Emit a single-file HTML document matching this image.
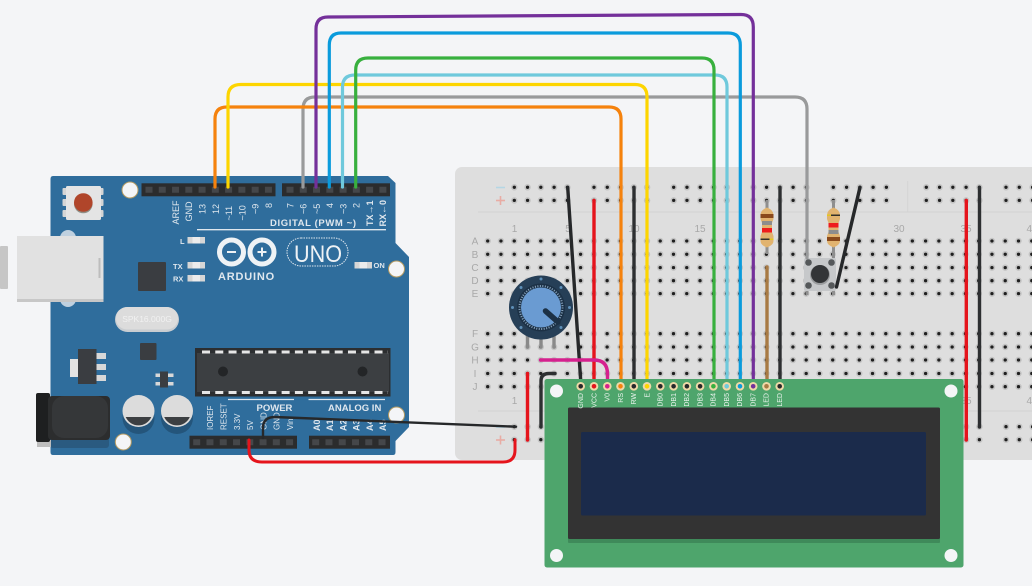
<!DOCTYPE html>
<html><head><meta charset="utf-8"><style>
html,body{margin:0;padding:0;background:#f4f5f7;width:1032px;height:586px;overflow:hidden}
svg{display:block}
text{font-family:"Liberation Sans",sans-serif}
</style></head><body>
<svg width="1032" height="586" viewBox="0 0 1032 586" xmlns="http://www.w3.org/2000/svg">
<defs>
<g id="r5h"><line x1="0" y1="0" x2="53.1" y2="0"/></g>
<g id="railrow">
<use href="#r5h" x="514.3"/><use href="#r5h" x="594"/><use href="#r5h" x="673.7"/><use href="#r5h" x="753.3"/><use href="#r5h" x="833.3"/><use href="#r5h" x="926.3"/><use href="#r5h" x="1006"/>
</g>
<g id="rows">
<line x1="487.7" x2="1040" y1="241" y2="241"/><line x1="487.7" x2="1040" y1="254.3" y2="254.3"/><line x1="487.7" x2="1040" y1="267.6" y2="267.6"/><line x1="487.7" x2="1040" y1="280.7" y2="280.7"/><line x1="487.7" x2="1040" y1="293.6" y2="293.6"/>
<line x1="487.7" x2="1040" y1="333.7" y2="333.7"/><line x1="487.7" x2="1040" y1="347" y2="347"/><line x1="487.7" x2="1040" y1="360" y2="360"/><line x1="487.7" x2="1040" y1="373.5" y2="373.5"/><line x1="487.7" x2="1040" y1="386.7" y2="386.7"/>
<use href="#railrow" y="187.3"/><use href="#railrow" y="200.4"/><use href="#railrow" y="426.7"/><use href="#railrow" y="439.7"/>
</g>
</defs>

<!-- breadboard -->
<rect x="455" y="167" width="600" height="293" rx="7" fill="#dedede"/>
<g stroke="#d3d3d3" stroke-width="1"><line x1="478" x2="1032" y1="212" y2="212"/><line x1="478" x2="1032" y1="411" y2="411"/><line x1="907.7" x2="907.7" y1="181" y2="212"/></g>
<g fill="none" stroke="#c4c4c4" stroke-width="6.5" stroke-linecap="round" stroke-dasharray="0 13.27"><use href="#rows"/></g>
<g fill="none" stroke="#1f1f1f" stroke-width="3.3" stroke-linecap="round" stroke-dasharray="0 13.27"><use href="#rows"/></g>
<g stroke-width="1.6"><line x1="496" x2="505" y1="187.5" y2="187.5" stroke="#b5d6e4"/><line x1="496" x2="505" y1="200.5" y2="200.5" stroke="#e8aca4"/><line x1="500.5" x2="500.5" y1="196" y2="205" stroke="#e8aca4"/>
<line x1="496" x2="505" y1="427" y2="427" stroke="#b5d6e4"/><line x1="496" x2="505" y1="440" y2="440" stroke="#e8aca4"/><line x1="500.5" x2="500.5" y1="435.5" y2="444.5" stroke="#e8aca4"/></g>
<g fill="#a8a8a8" font-size="10" text-anchor="middle">
<text x="514.5" y="232">1</text><text x="568" y="232">5</text><text x="634" y="232">10</text><text x="700" y="232">15</text><text x="899" y="232">30</text><text x="966" y="232">35</text><text x="1032" y="232">40</text>
<text x="514.5" y="404">1</text><text x="966" y="404">35</text><text x="1032" y="404">40</text>
<text x="475" y="244.5">A</text><text x="475" y="258">B</text><text x="475" y="271">C</text><text x="475" y="284">D</text><text x="475" y="297">E</text>
<text x="475" y="337">F</text><text x="475" y="350.5">G</text><text x="475" y="363.5">H</text><text x="475" y="377">I</text><text x="475" y="390">J</text>
</g>

<!-- breadboard wires under parts -->
<g fill="none" stroke-width="3.4" stroke-linecap="round">
<line x1="594" y1="200.4" x2="594" y2="385" stroke="#e5141c"/>
<line x1="634" y1="187.3" x2="634" y2="385" stroke="#2d2f31"/>
<line x1="767" y1="267" x2="767" y2="385" stroke="#a87a44"/>
<line x1="780" y1="187.3" x2="780" y2="385" stroke="#2d2f31"/>
<line x1="966.3" y1="200.4" x2="966.3" y2="440" stroke="#e5141c"/>
<line x1="979.5" y1="187.3" x2="979.5" y2="427" stroke="#2d2f31"/>
<line x1="527.5" y1="373.5" x2="527.5" y2="440" stroke="#e5141c"/>
<path d="M541 427V381Q541 373.5 549 373.5H555" stroke="#2d2f31"/>
</g>

<!-- resistors -->
<line x1="767" y1="200" x2="767" y2="254" stroke="#8f8f8f" stroke-width="3"/>
<path d="M767 207.500Q773.500 210 773.500 215V219L772 223V232L773.500 236V241Q773.500 245 767 247.500Q760.500 245 760.500 241V236L762 232V223L760.500 219V215Q760.500 210 767 207.500Z" fill="#e1b36f"/>
<rect x="760.500" y="214" width="13" height="4" fill="#8a4a1c"/>
<rect x="762" y="221" width="10" height="4" fill="#8d8d8d"/>
<rect x="762" y="228" width="10" height="4.500" fill="#ee1c1c"/>
<rect x="760.500" y="238.500" width="13" height="1.500" fill="#33302a"/>
<rect x="769.500" y="238.500" width="4" height="1.500" fill="#e3c820"/>

<line x1="833.500" y1="200" x2="833.500" y2="258" stroke="#8f8f8f" stroke-width="3"/>
<path d="M833.500 207.500Q840 210 840 215V219L838.500 223V232L840 236V241Q840 245 833.500 247.500Q827 245 827 241V236L828.500 232V223L827 219V215Q827 210 833.500 207.500Z" fill="#e1b36f"/>
<rect x="827" y="237" width="13" height="4" fill="#8a4a1c"/>
<rect x="828.500" y="230" width="10" height="4" fill="#8d8d8d"/>
<rect x="828.500" y="223" width="10" height="4.500" fill="#ee1c1c"/>
<rect x="827" y="214.500" width="13" height="1.500" fill="#33302a"/>
<rect x="827" y="214.500" width="4" height="1.500" fill="#e3c820"/>

<!-- pushbutton -->
<line x1="807" y1="288" x2="807" y2="295" stroke="#8f8f8f" stroke-width="3"/>
<line x1="833.500" y1="288" x2="833.500" y2="295" stroke="#8f8f8f" stroke-width="3"/>
<rect x="804" y="258" width="32" height="33" rx="2" fill="#c6c8ca"/>
<circle cx="820" cy="275" r="10" fill="#9b9d9f"/>
<circle cx="820" cy="274" r="9" fill="#333537"/>
<g fill="#55585a"><circle cx="808.500" cy="262.500" r="3.300"/><circle cx="831.500" cy="262.500" r="3.300"/><circle cx="808.500" cy="285.500" r="3.300"/><circle cx="831.500" cy="285.500" r="3.300"/></g>

<!-- pot -->
<g stroke="#8a8a8a" stroke-width="3.400" stroke-linecap="round"><line x1="527.500" y1="335" x2="527.500" y2="347"/><line x1="541" y1="335" x2="541" y2="347"/><line x1="554" y1="335" x2="554" y2="347"/></g>
<circle cx="541" cy="307.500" r="32" fill="#263f57"/>
<circle cx="541" cy="307.500" r="24" fill="#1c3146"/>
<circle cx="541" cy="307.500" r="21.500" fill="none" stroke="#8aa6c0" stroke-width="2" stroke-dasharray="1 1.500"/>
<circle cx="541" cy="307.500" r="20" fill="#6a9bd2"/>
<line x1="545.500" y1="311" x2="558" y2="322" stroke="#1c3146" stroke-width="5.500" stroke-linecap="round"/>
<g fill="#5e8fb8"><circle cx="541" cy="279" r="1.500"/><circle cx="561" cy="287.500" r="1.500"/><circle cx="569.500" cy="307.500" r="1.500"/><circle cx="561" cy="327.500" r="1.500"/><circle cx="521" cy="327.500" r="1.500"/><circle cx="512.500" cy="307.500" r="1.500"/><circle cx="521" cy="287.500" r="1.500"/></g>

<!-- black wires over parts -->
<g fill="none" stroke-linecap="round">
<line x1="567.700" y1="187.300" x2="581" y2="385" stroke="#26282a" stroke-width="3.400"/>
<line x1="860" y1="187.300" x2="836.500" y2="287" stroke="#26282a" stroke-width="3.400"/>
<path d="M540.500 360H594Q607.500 360 607.500 374V385" stroke="#d5218e" stroke-width="3.400"/>
</g>

<!-- arduino -->
<path d="M53 176H388L395.500 183V243L409 257V427L395.500 441V452Q395.500 455 393 455H53Q50.500 455 50.500 452V179Q50.500 176 53 176Z" fill="#2f6d9c"/>
<!-- USB -->
<rect x="0" y="246" width="8" height="43" rx="1" fill="#c6c6c6"/>
<circle cx="68" cy="238" r="8" fill="#bfd0df"/><circle cx="68" cy="299" r="8" fill="#bfd0df"/>
<rect x="17" y="236" width="86.500" height="66" fill="#c7c7c7"/>
<rect x="17" y="236" width="86.500" height="63" fill="#e1e1e1"/>
<rect x="98.500" y="258" width="2" height="20" fill="#bdbdbd"/>
<!-- reset -->
<rect x="62.500" y="188" width="41" height="7" rx="1" fill="#d5d5d5"/><rect x="62.500" y="199" width="41" height="7" rx="1" fill="#d5d5d5"/><rect x="62.500" y="210" width="41" height="7" rx="1" fill="#d5d5d5"/>
<rect x="66" y="186" width="35" height="34" rx="1.500" fill="#e4e4e4"/>
<circle cx="83.300" cy="204" r="9.300" fill="#8e8e86"/><circle cx="83.300" cy="202.500" r="9.300" fill="#b0452a"/>
<!-- mount holes -->
<g fill="#f4f5f7" stroke="#b39a62" stroke-width="1"><circle cx="130" cy="190" r="8"/><circle cx="396.500" cy="269" r="8"/><circle cx="396.500" cy="415" r="8"/><circle cx="123.300" cy="442" r="8"/></g>
<!-- headers -->
<g fill="#2b2c2d"><rect x="141.500" y="183.300" width="134" height="13"/><rect x="282" y="183.300" width="108" height="13"/><rect x="189.500" y="435.700" width="107.500" height="13"/><rect x="309" y="435.700" width="81" height="13"/></g>
<g fill="none" stroke="#45474a" stroke-width="6" stroke-dasharray="7 6.270">
<line x1="145.500" x2="275" y1="189.700" y2="189.700"/><line x1="286.500" x2="390" y1="189.700" y2="189.700"/>
<line x1="193.200" x2="297" y1="442.200" y2="442.200"/><line x1="312.200" x2="390" y1="442.200" y2="442.200"/>
</g>
<!-- silkscreen -->
<g fill="#dfe7ee" font-size="9" text-anchor="start">
<text transform="translate(179,224.500) rotate(-90)">AREF</text>
<text transform="translate(192,221.500) rotate(-90)">GND</text>
<text transform="translate(205.500,214) rotate(-90)">13</text>
<text transform="translate(219,214) rotate(-90)">12</text>
<text transform="translate(232,220.500) rotate(-90)">~11</text>
<text transform="translate(245.500,220.500) rotate(-90)">~10</text>
<text transform="translate(258.500,214) rotate(-90)">~9</text>
<text transform="translate(272,208) rotate(-90)">8</text>
<text transform="translate(293.500,208) rotate(-90)">7</text>
<text transform="translate(306.500,214) rotate(-90)">~6</text>
<text transform="translate(320,214) rotate(-90)">~5</text>
<text transform="translate(333,208) rotate(-90)">4</text>
<text transform="translate(346.500,214) rotate(-90)">~3</text>
<text transform="translate(359.500,208) rotate(-90)">2</text>
<text transform="translate(373,226) rotate(-90)" font-weight="bold">TX&#8594;1</text>
<text transform="translate(386,226.500) rotate(-90)" font-weight="bold">RX&#8592;0</text>
<text transform="translate(213,430) rotate(-90)" font-size="8">IOREF</text>
<text transform="translate(226.500,430) rotate(-90)" font-size="8">RESET</text>
<text transform="translate(240,430) rotate(-90)" font-size="8">3.3V</text>
<text transform="translate(253,430) rotate(-90)" font-size="8">5V</text>
<text transform="translate(266.500,430) rotate(-90)" font-size="8">GND</text>
<text transform="translate(279.500,430) rotate(-90)" font-size="8">GND</text>
<text transform="translate(293,430) rotate(-90)" font-size="8">Vin</text>
<text transform="translate(320,431) rotate(-90)" font-weight="bold">A0</text>
<text transform="translate(333,431) rotate(-90)" font-weight="bold">A1</text>
<text transform="translate(346.500,431) rotate(-90)" font-weight="bold">A2</text>
<text transform="translate(359.500,431) rotate(-90)" font-weight="bold">A3</text>
<text transform="translate(373,431) rotate(-90)" font-weight="bold">A4</text>
<text transform="translate(386,431) rotate(-90)" font-weight="bold">A5</text>
<text x="270" y="226" font-size="9.500" font-weight="bold" textLength="86">DIGITAL (PWM ~)</text>
<text x="256.500" y="411" font-size="9.500" font-weight="bold">POWER</text>
<text x="328" y="411" font-size="9.500" font-weight="bold">ANALOG IN</text>
<text x="180" y="244" font-size="7.500" font-weight="bold">L</text>
<text x="173" y="269" font-size="7.500" font-weight="bold">TX</text>
<text x="173" y="281.500" font-size="7.500" font-weight="bold">RX</text>
<text x="373.500" y="268" font-size="7.500" font-weight="bold">ON</text>
<text x="218" y="280" font-size="11" font-weight="bold" letter-spacing=".8">ARDUINO</text>
</g>
<g stroke="#dfe7ee" stroke-width="1.300"><line x1="197" x2="386" y1="229.700" y2="229.700"/><line x1="228" x2="294" y1="399.500" y2="399.500"/><line x1="308.500" x2="385" y1="399.500" y2="399.500"/></g>
<!-- logo -->
<g fill="none" stroke="#eef2f5" stroke-width="5"><circle cx="231.500" cy="252" r="12"/><circle cx="262" cy="252" r="12"/></g>
<g stroke="#eef2f5" stroke-width="2"><line x1="227" x2="236" y1="252" y2="252"/><line x1="257.500" x2="266.500" y1="252" y2="252"/><line x1="262" x2="262" y1="247.500" y2="256.500"/></g>
<rect x="287" y="238" width="61" height="28" rx="14" fill="none" stroke="#dfe7ee" stroke-width="1" stroke-dasharray="1.500 1"/>
<text x="294" y="262" font-size="24" fill="#eef2f5" textLength="48" lengthAdjust="spacingAndGlyphs">UNO</text>
<!-- LEDs -->
<g fill="#d6d6d6"><rect x="187.500" y="237" width="17.500" height="6.500"/><rect x="187.500" y="262" width="17.500" height="6.500"/><rect x="187.500" y="275" width="17.500" height="6.500"/><rect x="354.500" y="262" width="17.500" height="6.500"/></g>
<g fill="#ececec"><rect x="192.500" y="237" width="7.500" height="6.500"/><rect x="192.500" y="262" width="7.500" height="6.500"/><rect x="192.500" y="275" width="7.500" height="6.500"/><rect x="359.500" y="262" width="7.500" height="6.500"/></g>
<!-- chips -->
<rect x="138" y="262" width="28" height="29" rx="1" fill="#3a3d41"/>
<rect x="115" y="307" width="64" height="25" rx="12.500" fill="#c9cdd1"/><rect x="116" y="307" width="62" height="22.500" rx="11" fill="#dcdcdc"/>
<text x="147" y="322" font-size="8.500" fill="#f1f1f1" text-anchor="middle">SPK16.000G</text>
<rect x="140" y="343" width="16.500" height="17" rx="1" fill="#3a3d41"/>
<rect x="70" y="359" width="9" height="18" fill="#e3e3e3"/>
<g fill="#d8d8d8"><rect x="96" y="353" width="10" height="6"/><rect x="96" y="364" width="10" height="6"/><rect x="96" y="375" width="10" height="6"/></g>
<rect x="78" y="349" width="18.500" height="35" fill="#3a3d41"/>
<g fill="#d8d8d8"><rect x="155.500" y="373.500" width="18" height="3.500"/><rect x="155.500" y="382" width="18" height="3.500"/></g>
<rect x="160" y="371.500" width="8" height="16" fill="#3a3d41"/>
<!-- big chip -->
<rect x="195" y="348" width="195.500" height="48.500" fill="#2c2e30"/>
<rect x="197" y="353" width="192" height="39" fill="#3c3f42"/>
<line x1="202" x2="388" y1="352" y2="352" stroke="#e6e6e6" stroke-width="3" stroke-dasharray="8 5.270"/>
<line x1="202" x2="388" y1="392.500" y2="392.500" stroke="#e6e6e6" stroke-width="3" stroke-dasharray="8 5.270"/>
<circle cx="223" cy="371.500" r="5" fill="#232527"/><circle cx="362.500" cy="371.500" r="5" fill="#232527"/>
<!-- DC jack -->
<rect x="50" y="405" width="59" height="43" rx="3" fill="#2a5a80"/>
<rect x="37" y="440" width="14" height="7" fill="#bdbdbd"/>
<rect x="36" y="393" width="14" height="49" rx="2" fill="#1e1f20"/>
<rect x="48" y="396" width="62" height="44" rx="4" fill="#2c2d2e"/>
<rect x="52" y="396" width="56" height="42" rx="12" fill="#353739"/>
<!-- caps -->
<circle cx="138.500" cy="418" r="16" fill="#24557b"/><circle cx="177" cy="418" r="16" fill="#24557b"/>
<circle cx="138.500" cy="411" r="16" fill="#dcdcdc"/><circle cx="177" cy="411" r="16" fill="#dcdcdc"/>
<path d="M125.700 417H151.300A14 14 0 0 1 125.700 417Z" fill="#3c3f42"/><path d="M164.200 417H189.800A14 14 0 0 1 164.200 417Z" fill="#3c3f42"/>

<!-- top wires -->
<g fill="none" stroke-width="3.200" stroke-linecap="round">
<path d="M807 258V109Q807 97 795 97H315Q303 97 303 109V187" stroke="#999a9b"/>
<path d="M215 187V119Q215 107 227 107H609Q621 107 621 119V385" stroke="#f5820d"/>
<path d="M228 187V97Q228 84.500 241 84.500H635Q647 84.500 647 97V385" stroke="#fdd500"/>
<path d="M342.500 187V87Q342.500 75 355 75H715Q727 75 727 87V385" stroke="#6fc9dc"/>
<path d="M355.700 187V70Q355.700 58 368 58H702Q714 58 714 70V385" stroke="#38b03e"/>
<path d="M329.300 187V45Q329.300 33 341 33H728Q740.300 33 740.300 45V385" stroke="#0a9bdc"/>
<path d="M316 187V29Q316 17 328 17L741 14.500Q753.300 14.500 753.300 27V385" stroke="#74309a"/>
</g>

<!-- wires to breadboard -->
<g fill="none" stroke-linecap="round">
<path d="M249 440V450Q249 462 262 462H503Q515 462 515 450V439.700" stroke="#e5141c" stroke-width="3"/>
<path d="M263 438V428Q263 417 275 417L516 426.700" stroke="#26282a" stroke-width="2.400"/>
</g>

<!-- LCD -->
<rect x="544.500" y="379" width="419" height="188.500" rx="2.500" fill="#4ea56c"/>
<g fill="#f4f5f7"><circle cx="556.500" cy="391" r="6.500"/><circle cx="951" cy="391" r="6.500"/><circle cx="556.500" cy="555.500" r="6.500"/><circle cx="951" cy="555.500" r="6.500"/></g>
<rect x="568" y="411" width="372" height="132" rx="1" fill="#3f8a5a"/>
<rect x="568" y="407.500" width="372" height="131.500" rx="1.500" fill="#333333"/>
<rect x="581" y="432" width="345" height="83.500" rx="1.500" fill="#1b2b4b"/>
<g fill="#efd9a8">
<circle cx="580.700" cy="386.300" r="4.300"/><circle cx="594" cy="386.300" r="4.300"/><circle cx="607.300" cy="386.300" r="4.300"/><circle cx="620.500" cy="386.300" r="4.300"/><circle cx="633.800" cy="386.300" r="4.300"/><circle cx="647" cy="386.300" r="4.300"/><circle cx="660.300" cy="386.300" r="4.300"/><circle cx="673.600" cy="386.300" r="4.300"/><circle cx="686.900" cy="386.300" r="4.300"/><circle cx="700.100" cy="386.300" r="4.300"/><circle cx="713.400" cy="386.300" r="4.300"/><circle cx="726.700" cy="386.300" r="4.300"/><circle cx="740" cy="386.300" r="4.300"/><circle cx="753.200" cy="386.300" r="4.300"/><circle cx="766.500" cy="386.300" r="4.300"/><circle cx="779.700" cy="386.300" r="4.300"/>
</g>
<g>
<circle cx="580.700" cy="386.300" r="2.300" fill="#26282a"/><circle cx="594" cy="386.300" r="2.300" fill="#e5141c"/><circle cx="607.300" cy="386.300" r="2.300" fill="#d5218e"/><circle cx="620.500" cy="386.300" r="2.300" fill="#f5820d"/><circle cx="633.800" cy="386.300" r="2.300" fill="#26282a"/><circle cx="647" cy="386.300" r="2.300" fill="#fdd500"/><circle cx="660.300" cy="386.300" r="2.300" fill="#26282a"/><circle cx="673.600" cy="386.300" r="2.300" fill="#26282a"/><circle cx="686.900" cy="386.300" r="2.300" fill="#26282a"/><circle cx="700.100" cy="386.300" r="2.300" fill="#26282a"/><circle cx="713.400" cy="386.300" r="2.300" fill="#38b03e"/><circle cx="726.700" cy="386.300" r="2.300" fill="#6fc9dc"/><circle cx="740" cy="386.300" r="2.300" fill="#0a9bdc"/><circle cx="753.200" cy="386.300" r="2.300" fill="#74309a"/><circle cx="766.500" cy="386.300" r="2.300" fill="#a87a44"/><circle cx="779.700" cy="386.300" r="2.300" fill="#26282a"/>
</g>
<g fill="#e9f3ec" font-size="7" text-anchor="end">
<text transform="translate(583,393) rotate(-90)">GND</text>
<text transform="translate(596.300,393) rotate(-90)">VCC</text>
<text transform="translate(609.500,393) rotate(-90)">V0</text>
<text transform="translate(622.800,393) rotate(-90)">RS</text>
<text transform="translate(636,393) rotate(-90)">RW</text>
<text transform="translate(649.300,393) rotate(-90)">E</text>
<text transform="translate(662.500,393) rotate(-90)">DB0</text>
<text transform="translate(675.800,393) rotate(-90)">DB1</text>
<text transform="translate(689,393) rotate(-90)">DB2</text>
<text transform="translate(702.300,393) rotate(-90)">DB3</text>
<text transform="translate(715.600,393) rotate(-90)">DB4</text>
<text transform="translate(728.900,393) rotate(-90)">DB5</text>
<text transform="translate(742.200,393) rotate(-90)">DB6</text>
<text transform="translate(755.400,393) rotate(-90)">DB7</text>
<text transform="translate(768.700,393) rotate(-90)">LED</text>
<text transform="translate(782,393) rotate(-90)">LED</text>
</g>
</svg>
</body></html>
